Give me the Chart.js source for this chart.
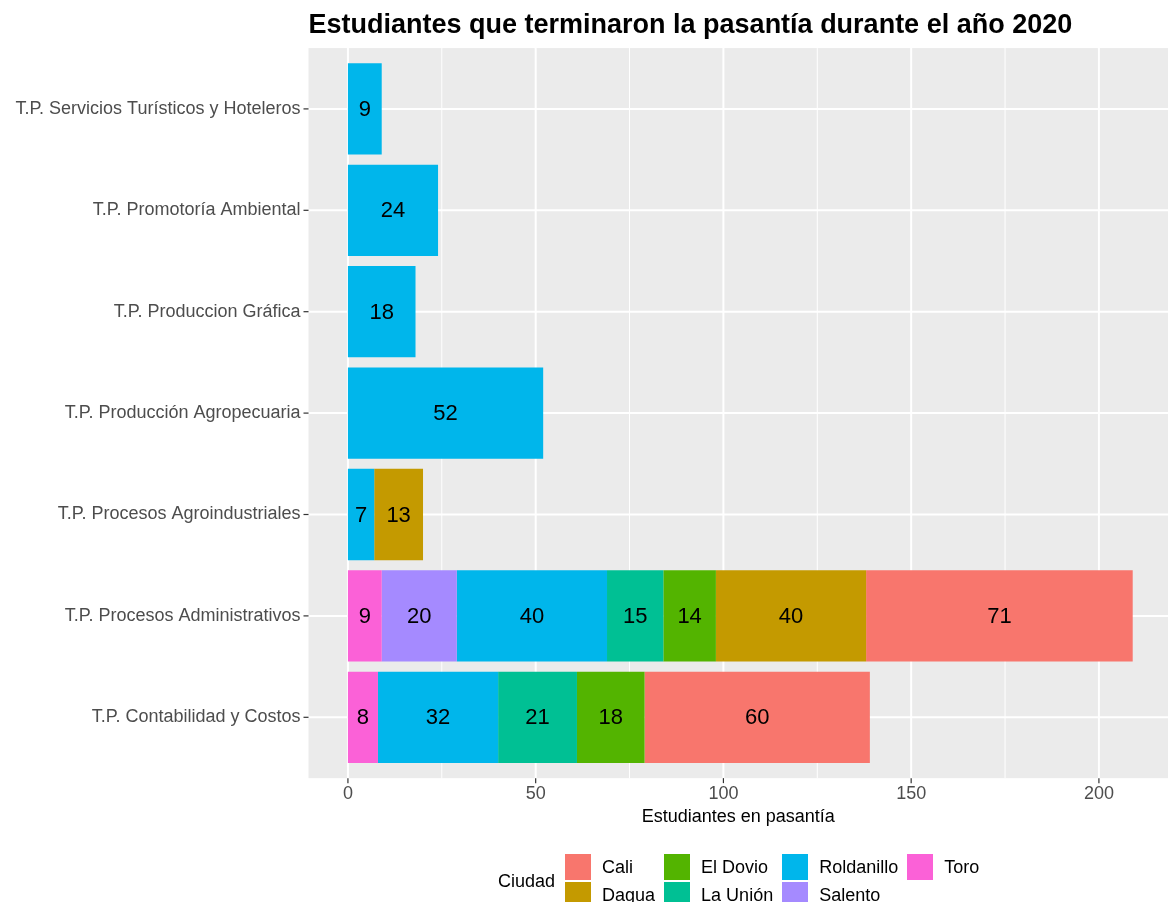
<!DOCTYPE html>
<html>
<head>
<meta charset="utf-8">
<script src="https://cdn.jsdelivr.net/npm/chart.js@4"></script>
<style>
  body { margin: 0; background: #fff; font-family: "Liberation Sans", Arial, sans-serif; }
  #wrap { position: relative; width: 1168px; height: 902px; overflow: hidden; }
  #legend { position: absolute; left: 498px; top: 853px; display: flex; align-items: center; }
  #legend .title { font-size: 18px; color: #000; margin-right: 10px; }
  #legend .col { display: flex; flex-direction: column; margin-right: 9px; }
  #legend .item { display: flex; align-items: center; height: 28px; }
  #legend .key { width: 26px; height: 26px; margin: 1px 11px 1px 0; }
  #legend .lab { font-size: 18px; color: #000; }
</style>
</head>
<body>
<div id="wrap">
  <canvas id="chart" width="1168" height="902"></canvas>
  <div id="legend"></div>
</div>
<script>
// programas, de arriba hacia abajo
const programas = [
    'T.P. Servicios Turísticos y Hoteleros',
    'T.P. Promotoría Ambiental',
    'T.P. Produccion Gráfica',
    'T.P. Producción Agropecuaria',
    'T.P. Procesos Agroindustriales',
    'T.P. Procesos Administrativos',
    'T.P. Contabilidad y Costos'
];

// ciudades (orden de la leyenda) y sus colores
const ciudades = ['Cali', 'Dagua', 'El Dovio', 'La Unión', 'Roldanillo', 'Salento', 'Toro'];
const colores = ['#F8766D', '#C49A00', '#53B400', '#00C094', '#00B6EB', '#A58AFF', '#FB61D7'];

// estudiantes por ciudad, mismo orden que programas
const cali       = [null, null, null, null, null, 71, 60];
const dagua      = [null, null, null, null, 13, 40, null];
const elDovio    = [null, null, null, null, null, 14, 18];
const laUnion    = [null, null, null, null, null, 15, 21];
const roldanillo = [9, 24, 18, 52, 7, 40, 32];
const salento    = [null, null, null, null, null, 20, null];
const toro       = [null, null, null, null, null, 9, 8];

const xBreaks = [0, 50, 100, 150, 200];
const xMinor = [25, 75, 125, 175];

const valores = [cali, dagua, elDovio, laUnion, roldanillo, salento, toro];

Chart.defaults.font.family = '"Liberation Sans", Arial, sans-serif';

// ggplot apila el primer nivel a la derecha, asi que se invierte
const datasets = ciudades.map((c, i) => ({
    label: c,
    data: valores[i],
    backgroundColor: colores[i],
    borderWidth: 0
})).reverse();

// fondo gris, rejilla y marcas de los ejes
const panelPlugin = {
    id: 'panel',
    beforeDatasetsDraw(chart) {
        const { ctx, chartArea, scales } = chart;
        const x = scales.x, y = scales.y;
        const step = y.getPixelForTick(1) - y.getPixelForTick(0);
        const top = chartArea.top - 0.1 * step;
        const bottom = chartArea.bottom + 0.1 * step;
        const line = (x1, y1, x2, y2) => {
            ctx.beginPath(); ctx.moveTo(x1, y1); ctx.lineTo(x2, y2); ctx.stroke();
        };
        ctx.save();
        ctx.fillStyle = '#EBEBEB';
        ctx.fillRect(chartArea.left, top, chartArea.right - chartArea.left, bottom - top);
        ctx.strokeStyle = '#FFFFFF';
        ctx.lineWidth = 1;
        xMinor.forEach(v => { const px = x.getPixelForValue(v); line(px, top, px, bottom); });
        ctx.lineWidth = 2;
        xBreaks.forEach(v => { const px = x.getPixelForValue(v); line(px, top, px, bottom); });
        y.ticks.forEach((t, i) => { const py = y.getPixelForTick(i); line(chartArea.left, py, chartArea.right, py); });
        ctx.strokeStyle = '#333333';
        ctx.lineWidth = 1.2;
        xBreaks.forEach(v => { const px = x.getPixelForValue(v); line(px, bottom, px, bottom + 5); });
        y.ticks.forEach((t, i) => { const py = y.getPixelForTick(i); line(chartArea.left - 5, py, chartArea.left, py); });
        ctx.restore();
    }
};

// numeros dentro de cada segmento
const valuePlugin = {
    id: 'values',
    afterDatasetsDraw(chart) {
        const ctx = chart.ctx;
        ctx.save();
        ctx.font = '22px "Liberation Sans", Arial, sans-serif';
        ctx.fillStyle = '#000';
        ctx.textAlign = 'center';
        ctx.textBaseline = 'middle';
        chart.data.datasets.forEach((ds, i) => {
            chart.getDatasetMeta(i).data.forEach((bar, j) => {
                const v = ds.data[j];
                if (v == null) return;
                const p = bar.getProps(['x', 'base', 'y'], true);
                ctx.fillText(v, (p.x + p.base) / 2, p.y + 1);
            });
        });
        ctx.restore();
    }
};

new Chart(document.getElementById('chart'), {
    type: 'bar',
    data: { labels: programas, datasets: datasets },
    options: {
        indexAxis: 'y',
        responsive: false,
        animation: false,
        devicePixelRatio: 1,
        layout: { padding: { left: 0, right: 0, top: 0, bottom: 64 } },
        datasets: { bar: { barPercentage: 0.9, categoryPercentage: 1 } },
        plugins: {
            legend: { display: false },
            tooltip: { enabled: false },
            title: {
                display: true,
                text: 'Estudiantes que terminaron la pasantía durante el año 2020',
                align: 'start',
                fullSize: false,
                color: '#000',
                font: { size: 27, weight: 'bold' },
                padding: { top: 9, bottom: 16.8 }
            }
        },
        scales: {
            x: {
                stacked: true,
                min: -10.5,
                max: 218.4,
                grid: { display: false, drawTicks: false },
                border: { display: false },
                afterBuildTicks: s => { s.ticks = xBreaks.map(v => ({ value: v })); },
                ticks: { padding: 15, color: '#4D4D4D', font: { size: 18 } },
                title: {
                    display: true,
                    text: 'Estudiantes en pasantía',
                    color: '#000',
                    font: { size: 18 },
                    padding: { top: 0, bottom: 10 }
                },
                afterFit: s => { s.height = 70; }
            },
            y: {
                stacked: true,
                grid: { display: false, drawTicks: false },
                border: { display: false },
                ticks: { autoSkip: false, padding: 8, color: '#4D4D4D', font: { size: 18 } },
                afterFit: s => { s.width = 308.5; }
            }
        }
    },
    plugins: [panelPlugin, valuePlugin]
});

// leyenda en dos filas, como ggplot
const legend = document.getElementById('legend');
legend.innerHTML = '<div class="title">Ciudad</div>';
for (let c = 0; c < ciudades.length; c += 2) {
    const col = document.createElement('div');
    col.className = 'col';
    ciudades.slice(c, c + 2).forEach((name, k) => {
        const item = document.createElement('div');
        item.className = 'item';
        item.innerHTML = '<span class="key" style="background:' + colores[c + k] + '"></span><span class="lab">' + name + '</span>';
        col.appendChild(item);
    });
    if (c + 2 > ciudades.length) col.style.alignSelf = 'flex-start';
    legend.appendChild(col);
}
</script>
</body>
</html>
